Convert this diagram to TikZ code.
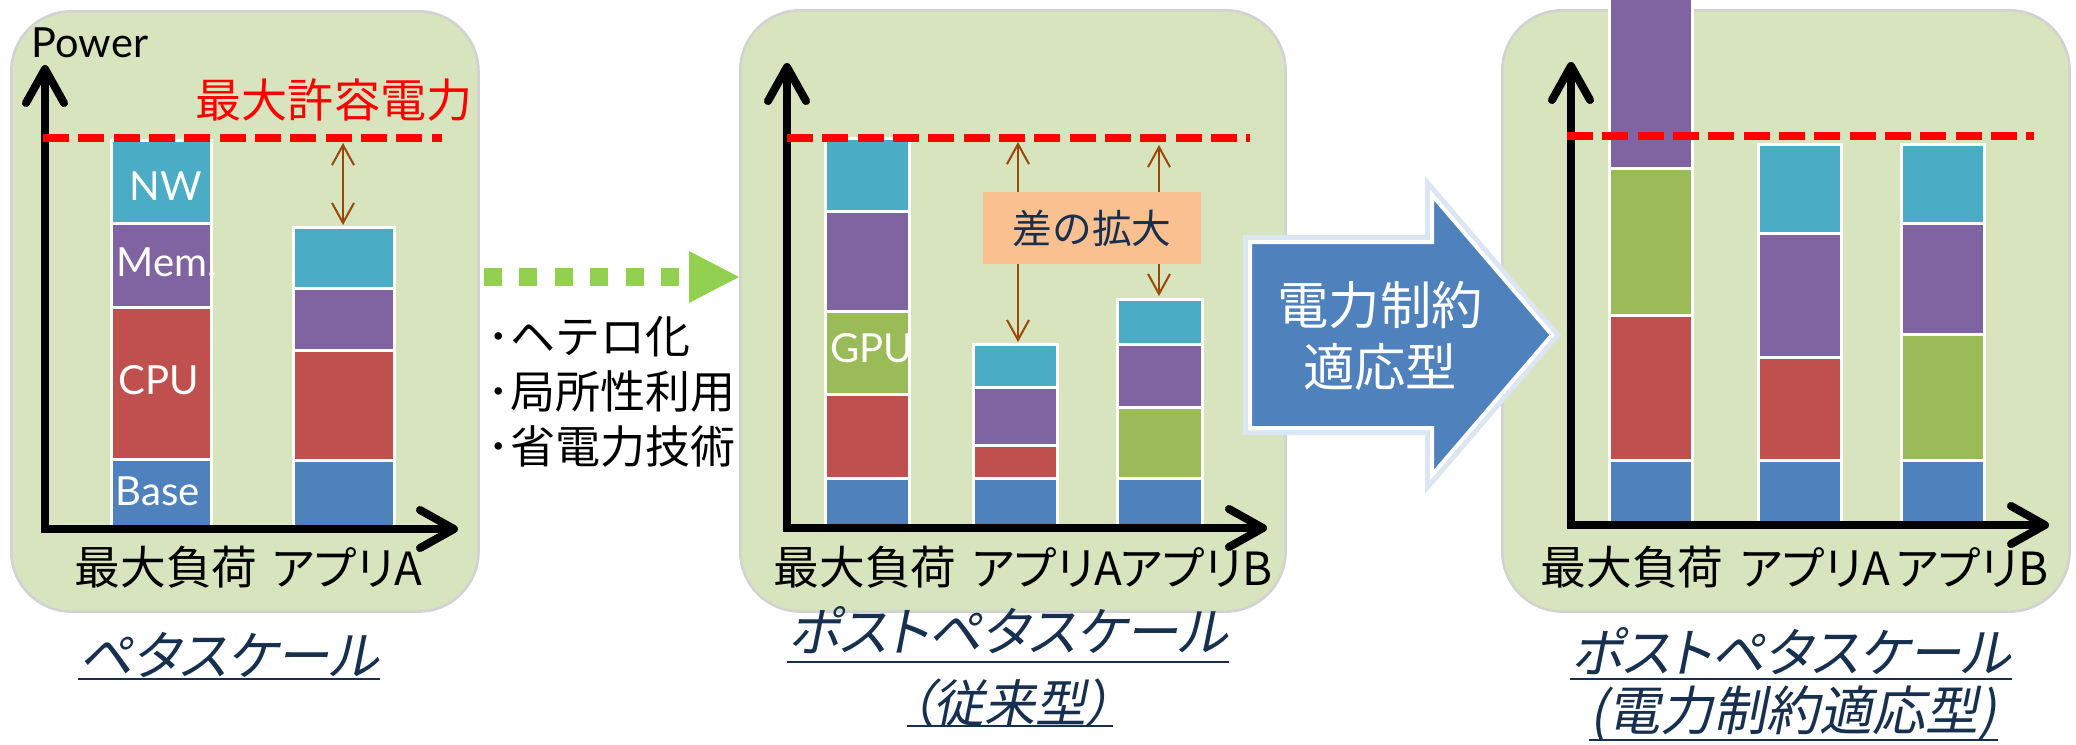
\documentclass[tikz,border=0pt]{standalone}
\usepackage{fontspec}
\setmainfont{Noto Sans CJK JP}
\newfontfamily\latfont{Lato}
\newfontfamily\labfont[RawFeature=+palt]{Noto Sans CJK JP}
\newfontfamily\capfont[FakeSlant=0.2,RawFeature=+palt]{Noto Sans CJK JP}
\newfontfamily\capfontw[FakeSlant=0.2]{Noto Sans CJK JP}
\usetikzlibrary{arrows.meta}
\definecolor{panelbg}{HTML}{D7E4BD}
\definecolor{panelbd}{HTML}{D2D2D2}
\definecolor{cNW}{HTML}{4BACC6}
\definecolor{cMem}{HTML}{8064A2}
\definecolor{cCPU}{HTML}{C0504D}
\definecolor{cGPU}{HTML}{9BBB59}
\definecolor{cBase}{HTML}{4F81BD}
\definecolor{cgreen}{HTML}{92D050}
\definecolor{cbrown}{HTML}{984807}
\definecolor{corange}{HTML}{FAC090}
\definecolor{cnavy}{HTML}{17304F}
\definecolor{carrow}{HTML}{4F81BD}
\newcommand\barseg[5]{\filldraw[segbox,fill=#5] (#1,#3) rectangle (#2,#4);}
\begin{document}
\begin{tikzpicture}[x=0.01cm,y=-0.01cm,
  panel/.style={fill=panelbg,draw=panelbd,line width=0.025cm,rounded corners=0.6cm,inner sep=0,anchor=north west},
  segbox/.style={draw=white,line width=0.03cm},
  axis/.style={line width=0.08cm,-{Straight Barb[length=0.34cm,width=0.38cm,line cap=round,line join=round]}},
  limit/.style={red,line width=0.085cm,dash pattern=on 0.26cm off 0.093cm},
  gap/.style={cbrown,line width=0.02cm,{Straight Barb[length=0.2cm,width=0.22cm]}-{Straight Barb[length=0.2cm,width=0.22cm]}},
  xlab/.style={inner sep=0,font=\labfont\fontsize{13pt}{15pt}\selectfont},
  barlab/.style={inner sep=0,text=white,font=\latfont\fontsize{11.4pt}{13pt}\selectfont},
  caption/.style={inner sep=0,text=cnavy,font=\capfont\fontsize{15.1pt}{17pt}\selectfont},
  uline/.style={cnavy,line width=0.028cm}
]
\useasboundingbox (0,0) rectangle (2076,744);
\fill[white] (0,0) rectangle (2076,744);

% panels
\node[panel,minimum width=4.67cm,minimum height=6.0cm] (p1) at (10,10) {};
\node[panel,minimum width=5.45cm,minimum height=6.01cm] (p2) at (739,9) {};
\node[panel,minimum width=5.67cm,minimum height=6.01cm] (p3) at (1501,9) {};

% ---------- panel 1 ----------
\barseg{111}{211}{140}{223}{cNW}
\barseg{111}{211}{223}{307}{cMem}
\barseg{111}{211}{307}{459}{cCPU}
\barseg{111}{211}{459}{526}{cBase}
\barseg{293}{394}{227}{288}{cNW}
\barseg{293}{394}{288}{350}{cMem}
\barseg{293}{394}{350}{460}{cCPU}
\barseg{293}{394}{460}{526}{cBase}
\node[barlab] (nw) at (166,186) {NW};
\node[barlab] (mem) at (167,262) {Mem.};
\node[barlab] (cpu) at (159,380) {CPU};
\node[barlab] (base) at (158,491) {Base};
\draw[axis] (45,533) -- (45,65);
\draw[axis] (41,529) -- (458,529);
\node[inner sep=0,font=\latfont\fontsize{11.8pt}{13pt}\selectfont] (power) at (90,43) {Power};
\draw[limit] (43,138) -- (442,138);
\node[inner sep=0,text=red,font=\fontsize{13.1pt}{15pt}\selectfont] (maxp) at (334,100) {最大許容電力};
\coordinate (g1a) at (343,143);
\coordinate (g1b) at (343,225);
\draw[gap] (g1a) -- (g1b);
\node[xlab] (l11) at (166,567) {最大負荷};
\node[xlab] (l12) at (347,567) {アプリA};

% ---------- transition 1 ----------
\coordinate (ga) at (484,277);
\coordinate (gb) at (679,277);
\coordinate (gt) at (739,277);
\draw[cgreen,line width=0.18cm,dash pattern=on 0.18cm off 0.174cm] (ga) -- (gb);
\fill[cgreen] (gt) -- ++(-50,-26) -- ++(0,52) -- cycle;
\node[anchor=west,align=left,inner sep=0,font=\fontsize{12.8pt}{15.6pt}\selectfont] (tech) at (487,392) {･ヘテロ化\\･局所性利用\\･省電力技術};

% ---------- panel 2 ----------
\barseg{825}{909}{138}{211}{cNW}
\barseg{825}{909}{211}{311}{cMem}
\barseg{825}{909}{311}{394}{cGPU}
\barseg{825}{909}{394}{478}{cCPU}
\barseg{825}{909}{478}{525}{cBase}
\barseg{973}{1057}{344}{387}{cNW}
\barseg{973}{1057}{387}{445}{cMem}
\barseg{973}{1057}{445}{478}{cCPU}
\barseg{973}{1057}{478}{525}{cBase}
\barseg{1117}{1202}{299}{344}{cNW}
\barseg{1117}{1202}{344}{407}{cMem}
\barseg{1117}{1202}{407}{478}{cGPU}
\barseg{1117}{1202}{478}{525}{cBase}
\node[barlab] (gpu) at (872,348) {GPU};
\draw[axis] (787,532) -- (787,63);
\draw[axis] (783,528) -- (1267,528);
\draw[limit] (787,138) -- (1250,138);
\coordinate (g2a) at (1018,142);
\coordinate (g2b) at (1018,342);
\coordinate (g3a) at (1159,145);
\coordinate (g3b) at (1159,296);
\draw[gap] (g2a) -- (g2b);
\draw[gap] (g3a) -- (g3b);
\node[fill=corange,inner sep=0,minimum width=2.17cm,minimum height=0.71cm,text=cnavy,font=\fontsize{11.3pt}{13pt}\selectfont] (gapbox) at (1092,228) {差の拡大};
\node[xlab] (l21) at (865,567) {最大負荷};
\node[xlab] (l22) at (1047,567) {アプリA};
\node[xlab] (l23) at (1196,567) {アプリB};

% ---------- panel 3 ----------
\barseg{1609}{1692}{-5}{168}{cMem}
\barseg{1609}{1692}{168}{315}{cGPU}
\barseg{1609}{1692}{315}{460}{cCPU}
\barseg{1609}{1692}{460}{523}{cBase}
\barseg{1758}{1841}{144}{233}{cNW}
\barseg{1758}{1841}{233}{357}{cMem}
\barseg{1758}{1841}{357}{460}{cCPU}
\barseg{1758}{1841}{460}{523}{cBase}
\barseg{1901}{1984}{144}{223}{cNW}
\barseg{1901}{1984}{223}{334}{cMem}
\barseg{1901}{1984}{334}{460}{cGPU}
\barseg{1901}{1984}{460}{523}{cBase}
\draw[axis] (1571,529) -- (1571,62);
\draw[axis] (1567,525) -- (2049,525);
\draw[limit] (1567,136) -- (2034,136);
\node[xlab] (l31) at (1632,567) {最大負荷};
\node[xlab] (l32) at (1815,567) {アプリA};
\node[xlab] (l33) at (1972,567) {アプリB};

% ---------- big blue arrow ----------
\draw[carrow!20,line width=0.14cm,line join=miter] (1250,242) -- (1432,242) -- (1432,195) -- (1552,335) -- (1432,475) -- (1432,428) -- (1250,428) -- cycle;
\filldraw[fill=carrow,draw=white,line width=0.04cm,line join=miter] (1250,242) -- (1432,242) -- (1432,195) -- (1552,335) -- (1432,475) -- (1432,428) -- (1250,428) -- cycle;
\node[inner sep=0,align=center,text=white,font=\fontsize{14.6pt}{17.4pt}\selectfont] (adapt) at (1380,336) {電力制約\\適応型};

% ---------- captions ----------
\node[caption] (c1) at (229,655) {ペタスケール};
\draw[uline] (c1.west |- 0,679) -- (c1.east |- 0,679);
\node[caption] (c2a) at (1008,630) {ポストペタスケール};
\draw[uline] (c2a.west |- 0,662) -- (c2a.east |- 0,662);
\node[caption,font=\capfont\fontsize{14.5pt}{16pt}\selectfont] (c2b) at (1010,703) {（従来型）};
\draw[uline] (c2b.west |- 0,726) -- (c2b.east |- 0,726);
\node[caption] (c3a) at (1791,651) {ポストペタスケール};
\draw[uline] (c3a.west |- 0,679) -- (c3a.east |- 0,679);
\node[caption,font=\capfontw\fontsize{15.1pt}{17pt}\selectfont] (c3b) at (1793,713) {(電力制約適応型)};
\draw[uline] (c3b.west |- 0,740) -- (c3b.east |- 0,740);
\end{tikzpicture}
\end{document}
